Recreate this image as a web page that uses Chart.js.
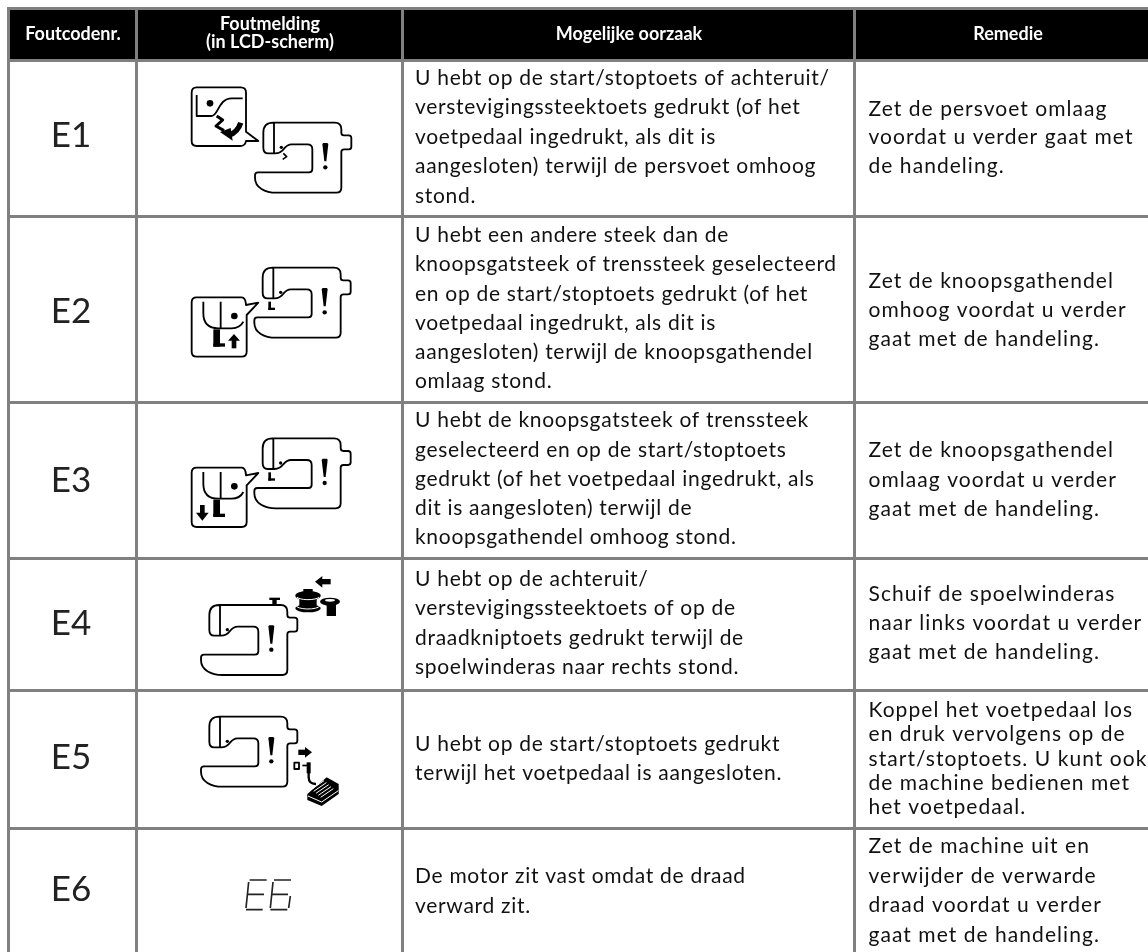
<!DOCTYPE html>
<html lang="nl">
<head>
<meta charset="utf-8">
<title>Foutcodes</title>
<script src="https://cdn.jsdelivr.net/npm/chart.js@4"></script>
<style>
  html, body { margin: 0; padding: 0; background: #fff; }
  canvas { display: block; }
</style>
</head>
<body>
<canvas id="errorTable" width="1148" height="952"></canvas>
<script>
// table content
const headerTitles = [['Foutcodenr.'], ['Foutmelding', '(in LCD-scherm)'], ['Mogelijke oorzaak'], ['Remedie']];
const errorCodes = ['E1', 'E2', 'E3', 'E4', 'E5', 'E6'];
const causeLines = [
    ['U hebt op de start/stoptoets of achteruit/', 'verstevigingssteektoets gedrukt (of het', 'voetpedaal ingedrukt, als dit is', 'aangesloten) terwijl de persvoet omhoog', 'stond.'],
    ['U hebt een andere steek dan de', 'knoopsgatsteek of trenssteek geselecteerd', 'en op de start/stoptoets gedrukt (of het', 'voetpedaal ingedrukt, als dit is', 'aangesloten) terwijl de knoopsgathendel', 'omlaag stond.'],
    ['U hebt de knoopsgatsteek of trenssteek', 'geselecteerd en op de start/stoptoets', 'gedrukt (of het voetpedaal ingedrukt, als', 'dit is aangesloten) terwijl de', 'knoopsgathendel omhoog stond.'],
    ['U hebt op de achteruit/', 'verstevigingssteektoets of op de', 'draadkniptoets gedrukt terwijl de', 'spoelwinderas naar rechts stond.'],
    ['U hebt op de start/stoptoets gedrukt', 'terwijl het voetpedaal is aangesloten.'],
    ['De motor zit vast omdat de draad', 'verward zit.']
];
const remedyLines = [
    ['Zet de persvoet omlaag', 'voordat u verder gaat met', 'de handeling.'],
    ['Zet de knoopsgathendel', 'omhoog voordat u verder', 'gaat met de handeling.'],
    ['Zet de knoopsgathendel', 'omlaag voordat u verder', 'gaat met de handeling.'],
    ['Schuif de spoelwinderas', 'naar links voordat u verder', 'gaat met de handeling.'],
    ['Koppel het voetpedaal los', 'en druk vervolgens op de', 'start/stoptoets. U kunt ook', 'de machine bedienen met', 'het voetpedaal.'],
    ['Zet de machine uit en', 'verwijder de verwarde', 'draad voordat u verder', 'gaat met de handeling.']
];

// table layout, in page pixels on the linear scales
const columnEdges = [8.5, 136.5, 402.5, 854.5];
const rowEdges = [8.5, 60.5, 216.5, 402.5, 558.5, 690.5, 828.5];
const codeBaselines = [147, 323, 492, 635, 769, 901];
const causeBaselines = [
    [85, 114, 144, 173, 203],
    [242, 271, 301, 330, 359, 388],
    [427, 457, 486, 515, 544],
    [586, 615, 645, 674],
    [751, 780],
    [883, 913]
];
const remedyBaselines = [
    [116, 144, 173],
    [288, 317, 346],
    [457, 487, 516],
    [601, 630, 659],
    [717, 741, 766, 790, 814],
    [853, 883, 912, 942]
];
const iconX = [270, 270, 270, 270, 270, 270];
const iconY = [134, 310, 480, 624, 760, 893];

const INK = '#111';

// icons are drawn at 3x units on their own small canvas and used as point images
function makeIcon(row, originX, originY, draw) {
    const c = document.createElement('canvas');
    c.width = 180;
    c.height = 120;
    const ctx = c.getContext('2d');
    ctx.translate(90 + originX - iconX[row], 60 + originY - iconY[row]);
    ctx.scale(1 / 3, 1 / 3);
    ctx.lineWidth = 5.5;
    ctx.strokeStyle = '#000';
    ctx.fillStyle = '#000';
    ctx.lineJoin = 'round';
    draw(ctx);
    return c;
}

function dot(ctx, x, y, r) {
    ctx.beginPath();
    ctx.arc(x, y, r, 0, Math.PI * 2);
    ctx.fill();
}

function poly(ctx, pts) {
    ctx.beginPath();
    pts.forEach((p, i) => i ? ctx.lineTo(p[0], p[1]) : ctx.moveTo(p[0], p[1]));
    ctx.closePath();
    ctx.fill();
}

function machine(ctx, x, y) {
    ctx.save();
    ctx.translate(x, y);
    ctx.stroke(new Path2D('M30,0 L214,0 Q234,0 234,20 L234,30 Q234,38 242,38 L256,38 Q264,38 264,46 L264,72 Q264,80 256,80 L242,80 Q234,80 234,88 L234,195 Q234,210 219,210 L40,210 C5,210 -25,195 -25,165 L-25,158 Q-25,149 -16,149 L137,149 Q147,149 147,139 L147,80 Q147,65 132,65 L85,65 Q72,65 62,78 Q52,92 35,92 L15,92 Q0,92 0,75 L0,30 Q0,0 30,0 Z M32,0 L32,92'));
    dot(ctx, 54, 74, 5);
    poly(ctx, [[177, 64], [180, 61], [192, 61], [195, 64], [189, 116], [183, 116]]);
    dot(ctx, 186, 134, 6.5);
    ctx.restore();
}

function blackFoot(ctx, x, y) {
    ctx.fillRect(x, y, 8, 25);
    ctx.fillRect(x, y + 18, 20, 7);
}

// bubble with the tail near the top of the right side
function topTailBubble(ctx, y) {
    ctx.stroke(new Path2D(`M290,${y} L425,${y} Q437,${y} 438,${y + 23} L475,${y + 16} L440,${y + 53} L440,${y + 163} Q440,${y + 178} 425,${y + 178} L290,${y + 178} Q275,${y + 178} 275,${y + 163} L275,${y + 15} Q275,${y} 290,${y} Z`));
    ctx.stroke(new Path2D(`M310,${y + 13} L310,${y + 48} Q310,${y + 93} 355,${y + 93} L395,${y + 93} Q420,${y + 93} 430,${y + 73} M362,${y + 13} L362,${y + 93}`));
    dot(ctx, 403, y + 56, 10);
    ctx.fillRect(340, y + 96, 20, 52);
    ctx.fillRect(340, y + 138, 35, 10);
}

const machineIcons = [
    makeIcon(0, 0, 0, ctx => {
        ctx.stroke(new Path2D('M590,262 L722,262 Q738,262 738,278 L738,395 L775,423 L738,423 Q736,438 720,438 L590,438 Q575,438 575,423 L575,278 Q575,262 590,262 Z'));
        ctx.stroke(new Path2D('M590,285 L590,348 L635,348 C655,348 655,295 695,295 L728,295'));
        dot(ctx, 630, 310, 10);
        ctx.save();
        ctx.lineWidth = 9;
        ctx.stroke(new Path2D('M650,348 L668,360 L648,378 L672,392'));
        ctx.lineWidth = 16;
        ctx.stroke(new Path2D('M722,368 Q714,396 686,406'));
        ctx.restore();
        poly(ctx, [[660, 396], [692, 384], [698, 422]]);
        machine(ctx, 790, 368);
        ctx.save();
        ctx.lineWidth = 5;
        ctx.stroke(new Path2D('M850,460 L860,470 L848,478'));
        ctx.restore();
    }),
    makeIcon(1, 100, 180, ctx => {
        topTailBubble(ctx, 352);
        poly(ctx, [[402, 462], [384, 482], [420, 482]]);
        ctx.fillRect(395, 480, 14, 25);
        machine(ctx, 488, 263);
        blackFoot(ctx, 505, 365);
    }),
    makeIcon(2, 100, 420, ctx => {
        topTailBubble(ctx, 143);
        ctx.fillRect(300, 255, 14, 25);
        poly(ctx, [[288, 278], [326, 278], [307, 302]]);
        machine(ctx, 488, 55);
        blackFoot(ctx, 505, 157);
    }),
    makeIcon(3, 100, 420, ctx => {
        machine(ctx, 328, 555);
        ctx.fillRect(508, 533, 32, 7);
        ctx.fillRect(517, 540, 13, 15);
        // bobbin
        ctx.fillRect(610, 507, 28, 18);
        ctx.fillRect(598, 527, 52, 38);
        ctx.beginPath(); ctx.ellipse(624, 527, 38, 14, 0, 0, Math.PI * 2); ctx.fill();
        ctx.beginPath(); ctx.ellipse(624, 565, 38, 12, 0, 0, Math.PI * 2); ctx.fill();
        ctx.save();
        ctx.strokeStyle = '#fff';
        ctx.lineWidth = 3;
        ctx.beginPath(); ctx.ellipse(624, 530, 33, 9, 0, 0.1, Math.PI - 0.1); ctx.stroke();
        ctx.beginPath(); ctx.ellipse(624, 556, 36, 11, 0, 0.1, Math.PI - 0.1); ctx.stroke();
        // peg
        ctx.fillStyle = '#000';
        ctx.fillRect(680, 548, 28, 40);
        ctx.beginPath(); ctx.ellipse(690, 545, 30, 12, 0, 0, Math.PI * 2); ctx.fill();
        ctx.fillStyle = '#fff';
        ctx.beginPath(); ctx.ellipse(690, 541, 15, 4, 0, 0, Math.PI * 2); ctx.fill();
        ctx.restore();
        // arrow to the left
        poly(ctx, [[645, 485], [667, 468], [667, 503]]);
        ctx.fillRect(665, 477, 27, 16);
    }),
    makeIcon(4, 100, 660, ctx => {
        machine(ctx, 328, 170);
        // arrow to the right
        poly(ctx, [[636, 277], [615, 261], [615, 293]]);
        ctx.fillRect(595, 269, 22, 16);
        // plug and cable
        ctx.strokeRect(583, 308, 14, 19);
        ctx.fillRect(607, 314, 14, 5);
        ctx.fillRect(620, 307, 12, 33);
        ctx.save();
        ctx.lineWidth = 7;
        ctx.stroke(new Path2D('M626,338 L626,352 Q626,372 648,372'));
        ctx.restore();
        // pedal
        poly(ctx, [[680, 352], [716, 372], [716, 402], [665, 438], [622, 420], [622, 402]]);
        ctx.save();
        ctx.strokeStyle = '#fff';
        ctx.lineWidth = 3;
        [0, 1, 2, 3, 4].forEach(i => {
            ctx.beginPath();
            ctx.moveTo(672 + i * 7, 362 + i * 6);
            ctx.lineTo(634 + i * 7, 388 + i * 6);
            ctx.stroke();
        });
        ctx.beginPath();
        ctx.moveTo(624, 408);
        ctx.lineTo(665, 426);
        ctx.lineTo(715, 392);
        ctx.stroke();
        ctx.restore();
    }),
    makeIcon(5, 100, 660, ctx => {
        ctx.strokeStyle = '#222';
        ctx.lineWidth = 5;
        ctx.stroke(new Path2D('M449,660 L500,660 M446,666 L438,744 M444,703 L492,703 M438,749 L488,749 M522,660 L573,660 M519,666 L511,744 M516,703 L564,703 M571,708 L566,744 M511,749 L562,749'));
    })
];

const cellTextPlugin = {
    id: 'cellText',
    beforeDatasetsDraw(chart) {
        const { ctx, scales: { x, y } } = chart;
        ctx.save();
        // black header band, the grid is drawn on top of it
        ctx.fillStyle = '#000';
        ctx.fillRect(x.getPixelForValue(columnEdges[0]), y.getPixelForValue(rowEdges[0]),
            x.getPixelForValue(1148) - x.getPixelForValue(columnEdges[0]),
            y.getPixelForValue(rowEdges[1]) - y.getPixelForValue(rowEdges[0]));
        ctx.restore();
    },
    afterDatasetsDraw(chart) {
        const { ctx, scales: { x, y } } = chart;
        const X = v => x.getPixelForValue(v);
        const Y = v => y.getPixelForValue(v);
        ctx.save();
        ctx.textBaseline = 'alphabetic';

        // header
        ctx.fillStyle = '#fff';
        ctx.textAlign = 'center';
        const headerX = [73, 270, 629, 1008];
        const headerY = [[40], [30, 48], [40], [40]];
        const headerW = [[98], [100, 131], [149], [70]];
        ctx.font = 'bold 18px Lato';
        headerTitles.forEach((lines, c) => lines.forEach((t, i) => {
            ctx.fillText(t, X(headerX[c]), Y(headerY[c][i]), headerW[c][i]);
        }));

        // code column
        ctx.fillStyle = '#222';
        ctx.font = '35px Lato';
        errorCodes.forEach((t, r) => ctx.fillText(t, X(71), Y(codeBaselines[r])));

        // cause and remedy columns
        ctx.fillStyle = INK;
        ctx.textAlign = 'left';
        ctx.font = '21px Lato';
        ctx.letterSpacing = '0.7px';
        causeLines.forEach((lines, r) => lines.forEach((t, i) => ctx.fillText(t, X(415), Y(causeBaselines[r][i]))));
        ctx.letterSpacing = '1.05px';
        remedyLines.forEach((lines, r) => lines.forEach((t, i) => ctx.fillText(t, X(868.5), Y(remedyBaselines[r][i]))));
        ctx.restore();
    }
};

const edgeTicks = edges => scale => { scale.ticks = edges.map(v => ({ value: v })); };

new Chart(document.getElementById('errorTable').getContext('2d'), {
    type: 'scatter',
    data: {
        datasets: [{
            label: 'Foutmelding',
            data: iconX.map((v, i) => ({ x: v, y: iconY[i] })),
            pointStyle: machineIcons,
            pointRadius: 1,
            showLine: false
        }]
    },
    options: {
        responsive: false,
        animation: false,
        layout: { autoPadding: false, padding: { left: 7, top: 7, right: 0, bottom: 0 } },
        plugins: { legend: { display: false }, tooltip: { enabled: false } },
        scales: {
            x: {
                type: 'linear', min: 7, max: 1148,
                afterBuildTicks: edgeTicks(columnEdges),
                ticks: { display: false, autoSkip: false },
                border: { display: false },
                grid: { color: '#808080', lineWidth: 3, drawTicks: false, z: 1 }
            },
            y: {
                type: 'linear', min: 7, max: 952, reverse: true,
                afterBuildTicks: edgeTicks(rowEdges),
                ticks: { display: false, autoSkip: false },
                border: { display: false },
                grid: { color: '#808080', lineWidth: 3, drawTicks: false, z: 1 }
            }
        }
    },
    plugins: [cellTextPlugin]
});
</script>
</body>
</html>
